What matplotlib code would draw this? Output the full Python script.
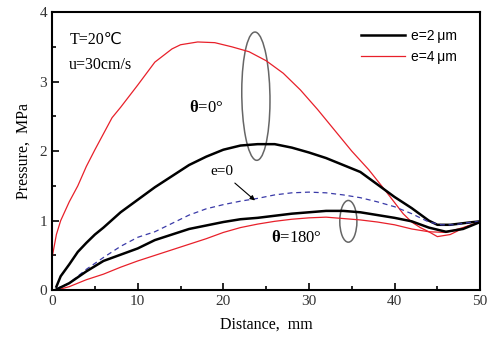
import matplotlib
matplotlib.use("Agg")
import matplotlib.pyplot as plt
from matplotlib.patches import Ellipse

# theta = 0, e = 4 um (red)
x_r0 = [0, 0.5, 1, 2, 3, 4, 5, 6, 7, 8, 10, 12, 14, 15, 17, 19, 21, 23, 25, 27, 29, 31, 33, 35, 37, 39, 41, 42, 43, 44, 45, 46.5, 48.5, 50]
y_r0 = [0.47, 0.8, 1.0, 1.27, 1.5, 1.78, 2.02, 2.25, 2.48, 2.63, 2.95, 3.28, 3.47, 3.53, 3.57, 3.56, 3.5, 3.43, 3.3, 3.12, 2.88, 2.6, 2.3, 2.0, 1.73, 1.42, 1.1, 0.98, 0.9, 0.84, 0.77, 0.8, 0.92, 0.98]

# theta = 0, e = 2 um (black)
x_b0 = [0.5, 1, 2, 3, 4, 5, 6, 8, 10, 12, 14, 16, 18, 20, 22, 24, 26, 28, 30, 32, 34, 36, 38, 40, 42, 44, 45, 46.5, 48.5, 50]
y_b0 = [0.05, 0.2, 0.37, 0.55, 0.68, 0.8, 0.9, 1.12, 1.3, 1.48, 1.64, 1.8, 1.92, 2.02, 2.08, 2.1, 2.1, 2.05, 1.98, 1.9, 1.8, 1.7, 1.52, 1.34, 1.18, 1.0, 0.94, 0.94, 0.97, 0.99]

# e = 0 (blue dashed)
x_e0 = [0.5, 2, 4, 6, 8, 10, 12, 14, 16, 18, 20, 22, 24, 26, 28, 30, 32, 34, 36, 38, 40, 42, 44, 45.5, 47, 48.5, 50]
y_e0 = [0.02, 0.1, 0.3, 0.47, 0.63, 0.76, 0.84, 0.96, 1.08, 1.17, 1.23, 1.28, 1.32, 1.37, 1.4, 1.41, 1.4, 1.37, 1.33, 1.27, 1.2, 1.1, 0.98, 0.94, 0.94, 0.97, 0.99]

# theta = 180, e = 2 um (black)
x_b180 = [0.5, 2, 4, 6, 8, 10, 12, 14, 16, 18, 20, 22, 24, 26, 28, 30, 32, 34, 36, 38, 40, 42, 44, 46, 48, 50]
y_b180 = [0.01, 0.1, 0.27, 0.42, 0.51, 0.6, 0.72, 0.8, 0.88, 0.93, 0.98, 1.02, 1.04, 1.07, 1.1, 1.12, 1.14, 1.14, 1.12, 1.08, 1.04, 0.99, 0.9, 0.84, 0.88, 0.98]

# theta = 180, e = 4 um (red)
x_r180 = [0.5, 2, 4, 6, 8, 10, 12, 14, 16, 18, 20, 22, 24, 26, 28, 30, 32, 34, 36, 38, 40, 42, 44, 46, 48, 50]
y_r180 = [0.0, 0.05, 0.15, 0.23, 0.33, 0.42, 0.5, 0.58, 0.66, 0.74, 0.83, 0.9, 0.95, 0.99, 1.02, 1.04, 1.05, 1.03, 1.01, 0.98, 0.94, 0.88, 0.84, 0.83, 0.9, 0.98]

RED = '#e8202a'
BLUE = '#3a3aa8'
serif = 'Liberation Serif'

plt.rcParams['mathtext.fontset'] = 'custom'
plt.rcParams['mathtext.rm'] = 'Liberation Serif'
plt.rcParams['mathtext.bf'] = 'Liberation Serif:bold'
plt.rcParams['mathtext.it'] = 'Liberation Serif:italic'

fig = plt.figure(figsize=(4.87, 3.45), dpi=100)
ax = fig.add_axes([0.107, 0.159, 0.879, 0.806])

ax.plot(x_r0, y_r0, color=RED, lw=0.9)
ax.plot(x_b0, y_b0, color='black', lw=1.8)
ax.plot(x_e0, y_e0, color=BLUE, lw=0.9, dashes=(4, 3))
ax.plot(x_r180, y_r180, color=RED, lw=0.9)
ax.plot(x_b180, y_b180, color='black', lw=1.8)

# legend proxies
l1, = ax.plot([], [], color='black', lw=1.8, label='e=2\u2009\u03bcm')
l2, = ax.plot([], [], color=RED, lw=0.9, label='e=4\u2009\u03bcm')
ax.legend(handles=[l1, l2], loc='upper right', frameon=False,
          handlelength=3.2, handletextpad=0.4, labelspacing=0.5,
          bbox_to_anchor=(0.975, 0.985),
          prop={'family': ['Liberation Sans', 'DejaVu Sans'], 'size': 10})

# ellipses
ax.add_patch(Ellipse((23.8, 2.79), 3.3, 1.84, angle=-3, fill=False, ec='#666666', lw=1.1))
ax.add_patch(Ellipse((34.6, 0.99), 2.0, 0.6, fill=False, ec='#666666', lw=1.1))

# annotations
ax.text(2.0, 3.6, 'T=20\u2103', family=[serif, 'DejaVu Sans'], fontsize=11.5, va='center')
ax.text(2.0, 3.24, 'u=30cm/s', family=serif, fontsize=11.5, va='center')
ax.text(16.0, 2.62, r'$\mathbf{\theta}$=0°', family=serif, fontsize=12, va='center')
ax.text(25.6, 0.75, r'$\mathbf{\theta}$=180°', family=serif, fontsize=12, va='center')
ax.annotate('e=0', xy=(23.7, 1.29), xytext=(18.5, 1.7), family=serif, fontsize=11,
            va='center', arrowprops=dict(arrowstyle='-|>', color='black', lw=0.8,
                                         shrinkA=2, shrinkB=0, mutation_scale=7))

ax.set_xlim(0, 50)
ax.set_ylim(0, 4)
ax.set_xticks([0, 10, 20, 30, 40, 50])
ax.set_xticks([5, 15, 25, 35, 45], minor=True)
ax.set_yticks([0, 1, 2, 3, 4])
ax.set_yticks([0.5, 1.5, 2.5, 3.5], minor=True)
ax.tick_params(which='both', direction='in', top=False, right=False,
               labelsize=11, width=1.2)
ax.tick_params(which='major', length=5)
ax.tick_params(which='minor', length=3)
for lab in ax.get_xticklabels() + ax.get_yticklabels():
    lab.set_family(serif)
    lab.set_color('#333333')

for s in ax.spines.values():
    s.set_linewidth(1.5)

ax.set_xlabel('Distance,  mm', family=serif, fontsize=11.5, labelpad=6)
ax.set_ylabel('Pressure,  MPa', family=serif, fontsize=11.5, labelpad=6)

fig.savefig('out.png', dpi=100)
